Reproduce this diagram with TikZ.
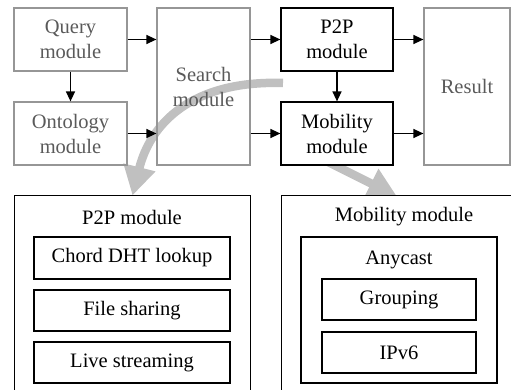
\documentclass[tikz,border=0pt]{standalone}
\usepackage{fontspec}
\setmainfont{Liberation Serif}
\usetikzlibrary{arrows.meta}
\definecolor{boxgray}{RGB}{150,150,150}
\definecolor{txtgray}{RGB}{90,90,90}
\definecolor{bandgray}{RGB}{192,192,192}
\tikzset{
  base/.style={font=\fontsize{20.5pt}{25pt}\selectfont, align=center, inner sep=0pt, line width=1.2pt},
  graybox/.style={base, draw=boxgray, text=txtgray},
  blackbox/.style={base, draw=black, fill=white},
  arr/.style={line width=1.3pt, -{Triangle[length=10pt,width=9pt]}},
  bandarrow/.style={draw=bandgray, line width=8.5pt, -{Triangle[length=29pt,width=31pt,fill=bandgray]}}
}
\begin{document}
\begin{tikzpicture}[x=1pt,y=-1pt]
\useasboundingbox (0,0) rectangle (511,390);
% gray band arrows (drawn first, under the boxes)
\coordinate (b1s) at (283,83);
\coordinate (b1e) at (132.5,195.5);
\draw[bandarrow] (b1s) .. controls (190,80) and (150,125) .. (b1e);
\coordinate (b2s) at (324,160);
\coordinate (b2e) at (397,196.5);
\draw[bandarrow] (b2s) -- (b2e);
% top row
\node[graybox, minimum width=113pt, minimum height=63pt] (query) at (70.5,39.5) {Query\\module};
\node[graybox, minimum width=113pt, minimum height=63pt] (onto) at (70.5,133.5) {Ontology\\module};
\node[graybox, minimum width=93pt, minimum height=157pt] (search) at (203.5,86.5) {Search\\module};
\node[blackbox, minimum width=112pt, minimum height=63pt] (p2p) at (337,39.5) {P2P\\module};
\node[blackbox, minimum width=112pt, minimum height=63pt] (mob) at (337,133.5) {Mobility\\module};
\node[graybox, minimum width=86pt, minimum height=157pt] (result) at (467,86.5) {Result};
% bottom detail boxes
\begin{scope}
\clip (0,0) rectangle (511,390);
\node[blackbox, anchor=north west, minimum width=236pt, minimum height=210pt] (p2pouter) at (14,195) {};
\node[blackbox, anchor=north west, minimum width=246pt, minimum height=210pt] (mobouter) at (281,195) {};
\end{scope}
\node[base] (p2ptitle) at (132,217) {P2P module};
\node[blackbox, minimum width=196pt, minimum height=42pt] (chord) at (132,258) {Chord DHT lookup};
\node[blackbox, minimum width=196pt, minimum height=41pt] (file) at (132,310.5) {File sharing};
\node[blackbox, minimum width=196pt, minimum height=41pt] (live) at (132,362.5) {Live streaming};
\node[base] (mobtitle) at (404,217) {Mobility module};
\node[blackbox, minimum width=196pt, minimum height=146pt] (anycast) at (399,310) {};
\node[base] (anytitle) at (399,260) {Anycast};
\node[blackbox, minimum width=154pt, minimum height=41pt] (group) at (399,299.5) {Grouping};
\node[blackbox, minimum width=154pt, minimum height=41pt] (ipv6) at (399,352.5) {IPv6};
% connectors
\draw[arr] (query.east) -- (query.east -| search.west);
\draw[arr] (onto.east) -- (onto.east -| search.west);
\draw[arr] (query.south) -- (onto.north);
\draw[arr] (search.east |- p2p.west) -- (p2p.west);
\draw[arr] (search.east |- mob.west) -- (mob.west);
\draw[arr] (p2p.south) -- (mob.north);
\draw[arr] (p2p.east) -- (p2p.east -| result.west);
\draw[arr] (mob.east) -- (mob.east -| result.west);
\end{tikzpicture}
\end{document}
